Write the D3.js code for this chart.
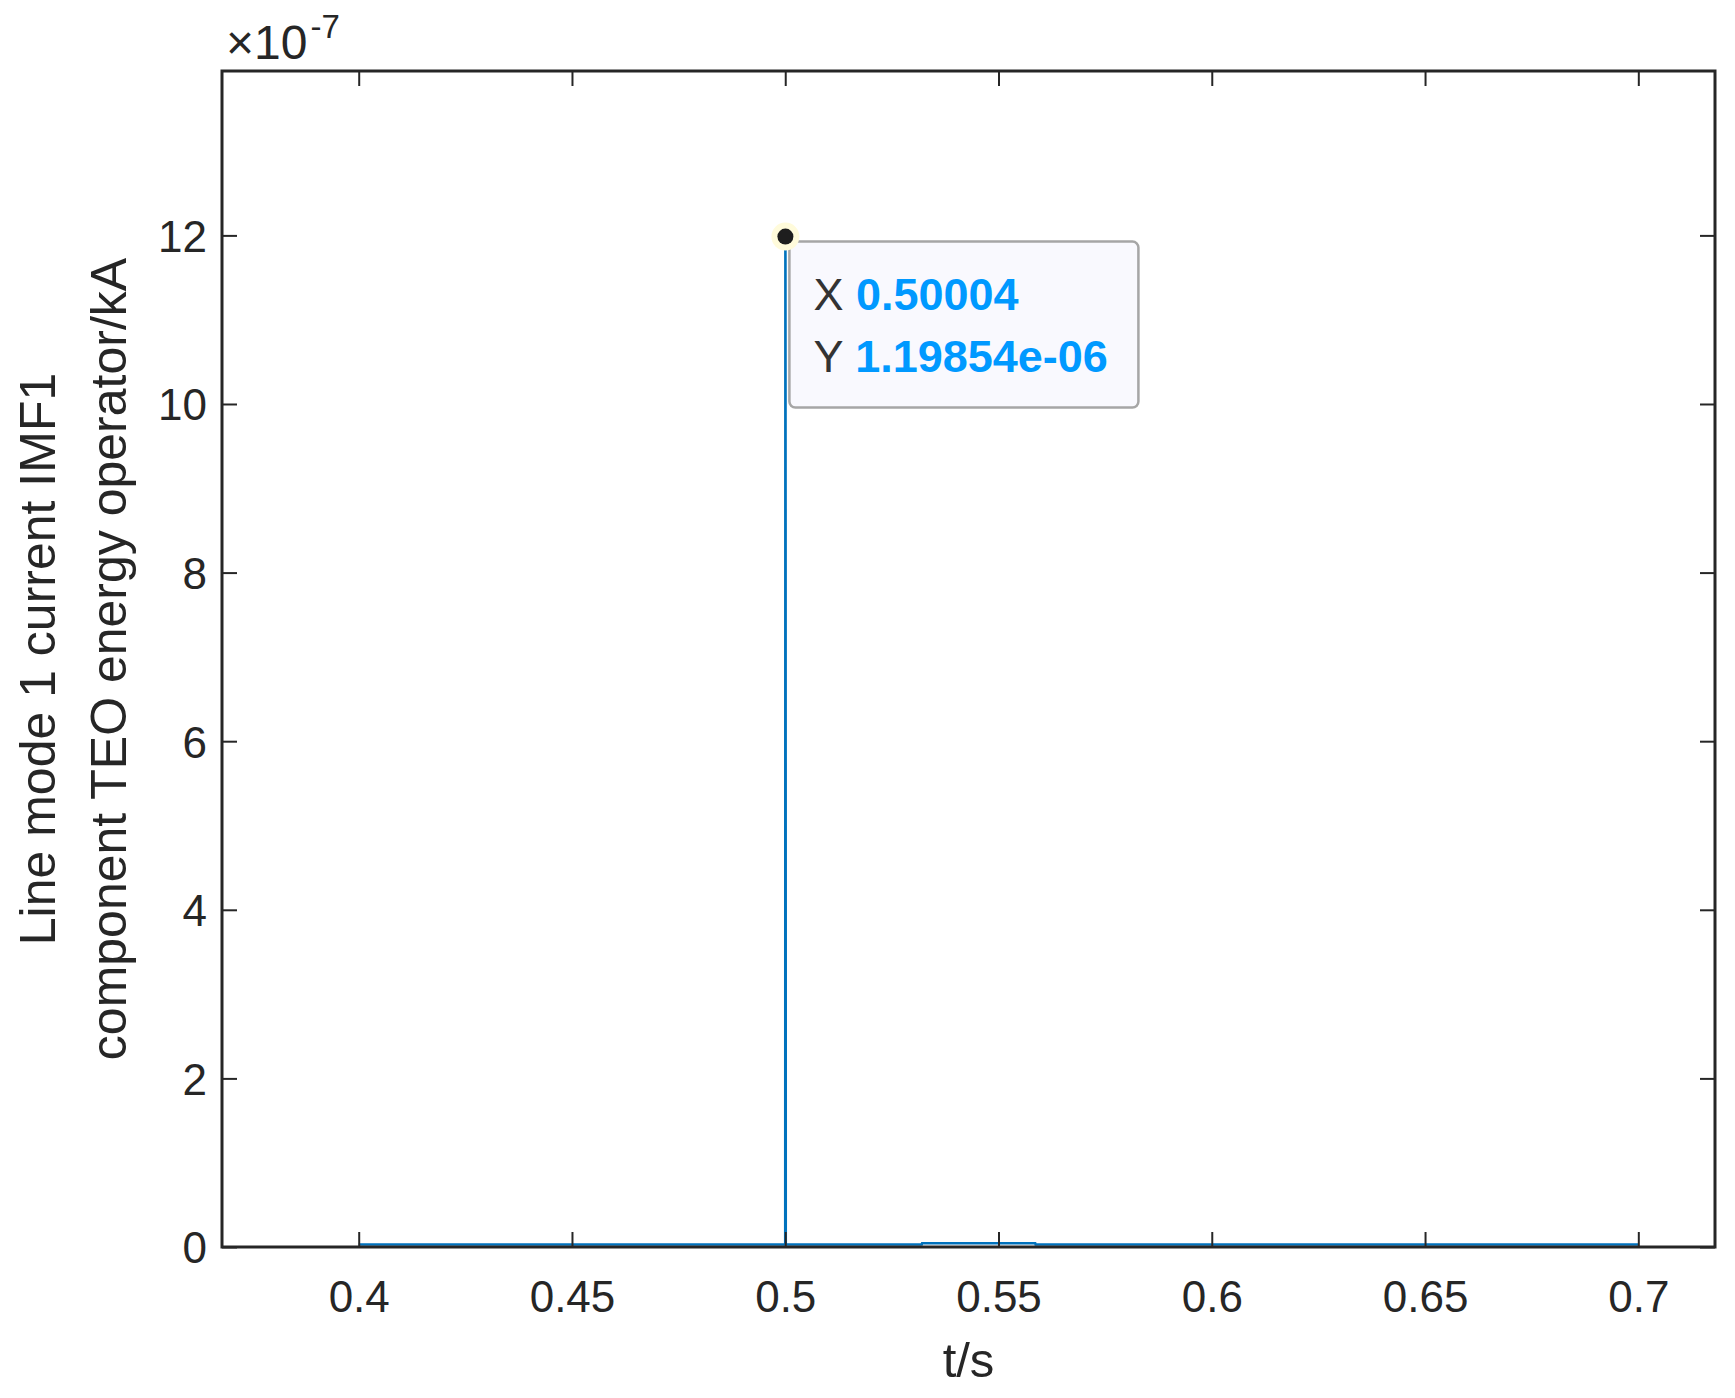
<!DOCTYPE html>
<html>
<head>
<meta charset="utf-8">
<script src="https://cdn.jsdelivr.net/npm/d3@7"></script>
<style>
  html, body { margin: 0; padding: 0; background: #ffffff; }
  svg { display: block; }
  text { font-family: "Liberation Sans", Arial, Helvetica, sans-serif; }
</style>
</head>
<body>
<svg id="chart" width="1735" height="1398"></svg>
<script>
// ---- data (y in units of 1e-7) ----
const timeValues = [0.4, 0.5, 0.50004, 0.50008, 0.50012, 0.532, 0.5321, 0.5586, 0.5587, 0.7];
const teoValues  = [0.03, 0.03, 11.9854, 8.59, 0.03, 0.03, 0.045, 0.045, 0.03, 0.03];
const xTickValues = [0.4, 0.45, 0.5, 0.55, 0.6, 0.65, 0.7];
const xTickLabels = ["0.4", "0.45", "0.5", "0.55", "0.6", "0.65", "0.7"];
const yTickValues = [0, 2, 4, 6, 8, 10, 12];
const yTickLabels = ["0", "2", "4", "6", "8", "10", "12"];
const tipPoint = {t: 0.50004, y: 11.9854};
const tipLabels = ["X", "Y"];
const tipTexts = ["0.50004", "1.19854e-06"];
const xLabelText = "t/s";
const yLabelLines = ["Line mode 1 current IMF1", "component TEO energy operator/kA"];
const exponentBase = "\u00d710";
const exponentPower = "-7";

// ---- layout ----
const L = 222, R = 1715, T = 71, B = 1247;
const ink = "#262626";
const svg = d3.select("#chart");

const x = d3.scaleLinear().domain([0.36795, 0.71798]).range([L, R]);
const y = d3.scaleLinear().domain([0, 13.95]).range([B, T]);

svg.append("defs").append("clipPath").attr("id", "plotclip")
  .append("rect").attr("x", L).attr("y", T).attr("width", R - L).attr("height", B - T);

// data line
const line = d3.line().x((d, i) => x(timeValues[i])).y((d, i) => y(teoValues[i]));
svg.append("path")
  .attr("clip-path", "url(#plotclip)")
  .attr("d", line(timeValues))
  .attr("fill", "none")
  .attr("stroke", "#0072BD")
  .attr("stroke-width", 2.6)
  .attr("stroke-linejoin", "miter");

// axes (ticks inward)
const tickLen = 15;
const xAxisBottom = d3.axisBottom(x).tickValues(xTickValues).tickSizeInner(-tickLen).tickSizeOuter(0)
  .tickFormat((d, i) => xTickLabels[i]).tickPadding(tickLen + 50);
const gxb = svg.append("g").attr("transform", `translate(0,${B})`).call(xAxisBottom);
const xAxisTop = d3.axisTop(x).tickValues(xTickValues).tickSizeInner(-tickLen).tickSizeOuter(0).tickFormat("");
const gxt = svg.append("g").attr("transform", `translate(0,${T})`).call(xAxisTop);
const yAxisLeft = d3.axisLeft(y).tickValues(yTickValues).tickSizeInner(-tickLen).tickSizeOuter(0)
  .tickFormat((d, i) => yTickLabels[i]).tickPadding(tickLen + 0);
const gyl = svg.append("g").attr("transform", `translate(${L},0)`).call(yAxisLeft);
const yAxisRight = d3.axisRight(y).tickValues(yTickValues).tickSizeInner(-tickLen).tickSizeOuter(0).tickFormat("");
const gyr = svg.append("g").attr("transform", `translate(${R},0)`).call(yAxisRight);

[gxb, gxt, gyl, gyr].forEach(g => {
  g.select(".domain").remove();
  g.selectAll(".tick line").attr("stroke", ink).attr("stroke-width", 2);
  g.selectAll(".tick text").attr("fill", ink).attr("font-size", 44)
    .attr("font-family", "'Liberation Sans', Arial, sans-serif");
});
gxb.selectAll(".tick text").attr("dy", "0");
gyl.selectAll(".tick text").attr("dy", "0.36em");

// frame
svg.append("rect").attr("x", L).attr("y", T).attr("width", R - L).attr("height", B - T)
  .attr("fill", "none").attr("stroke", ink).attr("stroke-width", 3);

// exponent label
const expText = svg.append("text").attr("x", 226).attr("y", 59).attr("fill", ink).attr("font-size", 48);
expText.append("tspan").text(exponentBase);
expText.append("tspan").attr("font-size", 33).attr("dy", -21).attr("dx", 3).text(exponentPower);

// x label
svg.append("text").attr("x", (L + R) / 2).attr("y", 1377).attr("text-anchor", "middle")
  .attr("fill", ink).attr("font-size", 49).text(xLabelText);

// y label (two lines)
const ylx = [55, 126];
yLabelLines.forEach((s, i) => {
  svg.append("text")
    .attr("transform", `translate(${ylx[i]},${(T + B) / 2}) rotate(-90)`)
    .attr("text-anchor", "middle").attr("fill", ink).attr("font-size", 50).text(s);
});

// data tip
const px = x(tipPoint.t), py = y(tipPoint.y);
const boxX = px + 4, boxY = py + 5, boxW = 349, boxH = 166;
svg.append("rect").attr("x", boxX).attr("y", boxY).attr("width", boxW).attr("height", boxH)
  .attr("rx", 6).attr("ry", 6).attr("fill", "#f9f9fe").attr("stroke", "#a6a6a6").attr("stroke-width", 2.5);
svg.append("circle").attr("cx", px).attr("cy", py).attr("r", 14).attr("fill", "#fffbdb");
svg.append("circle").attr("cx", px).attr("cy", py).attr("r", 8).attr("fill", "#1e1e1e");
const rowY = [boxY + 68, boxY + 130];
tipLabels.forEach((lab, i) => {
  const t = svg.append("text").attr("x", boxX + 24).attr("y", rowY[i]).attr("font-size", 45);
  t.append("tspan").attr("fill", "#333333").text(lab + " ");
  t.append("tspan").attr("fill", "#0099ff").attr("font-weight", "bold").text(tipTexts[i]);
});
</script>
</body>
</html>
